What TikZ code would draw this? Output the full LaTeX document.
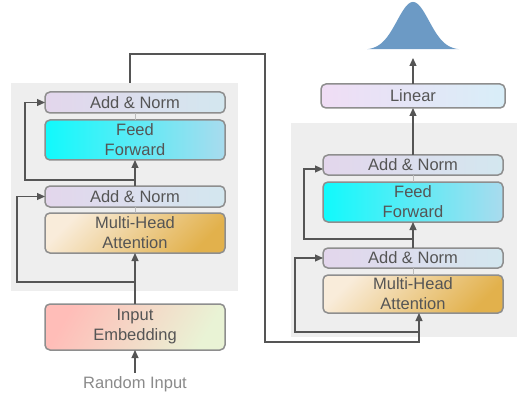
\documentclass[tikz,border=0pt]{standalone}
\usepackage{fontspec}
\setmainfont{Liberation Sans}
\usetikzlibrary{arrows.meta, positioning, calc, backgrounds}

\definecolor{boxline}{HTML}{8E8E8E}
\definecolor{txtgray}{HTML}{555555}
\definecolor{rndgray}{HTML}{8A8A8A}
\definecolor{panelgray}{HTML}{EEEEEE}
\definecolor{wirecol}{HTML}{555555}
\definecolor{gaussblue}{HTML}{6C9AC5}
\definecolor{anL}{HTML}{E3D6EC}
\definecolor{anR}{HTML}{D3E7EF}
\definecolor{ffL}{HTML}{10FAFC}
\definecolor{ffR}{HTML}{A9DBEE}
\definecolor{mhaA}{HTML}{F9ECDA}
\definecolor{mhaB}{HTML}{E2B14C}
\definecolor{ieA}{HTML}{FFBDB8}
\definecolor{ieB}{HTML}{E9F3D5}
\definecolor{linL}{HTML}{F0DDF5}
\definecolor{linR}{HTML}{D8EEF8}

\begin{document}
\begin{tikzpicture}[
    x=1pt, y=-1pt,
    font=\fontsize{16.5}{20}\selectfont,
    block/.style={rectangle, rounded corners=5pt, minimum width=180pt, inner sep=0pt, outer sep=0pt, text centered, align=center, draw=boxline, line width=1.5pt, text=txtgray},
    addnorm/.style={block, minimum height=21pt, left color=anL, right color=anR},
    feedfwd/.style={block, minimum height=40pt, left color=ffL, right color=ffR},
    attention/.style={block, minimum height=40pt, top color=mhaA, bottom color=mhaB, shading angle=45},
    embed/.style={block, minimum height=46pt, top color=ieA, bottom color=ieB, shading angle=60},
    linear/.style={block, minimum width=184pt, minimum height=24pt, left color=linL, right color=linR},
    arrow/.style={draw=wirecol, line width=1.2pt, -{Triangle[length=8pt,width=7pt]}},
    wire/.style={draw=wirecol, line width=1.2pt},
    link/.style={draw=boxline!60, line width=0.8pt},
    panel/.style={fill=panelgray, draw=none}
]
\useasboundingbox (0,0) rectangle (524,398);

% Encoder (left)
\node (ie1) [embed] at (135,327) {Input\\Embedding};
\node (rin) [text=rndgray] at (135,384) {Random Input};
\node (mha1) [attention, above=51pt of ie1] {Multi-Head\\Attention};
\node (an2l) [addnorm, above=6pt of mha1] {Add \& Norm};
\node (ff1) [feedfwd, above=26pt of an2l] {Feed\\Forward};
\node (an1l) [addnorm, above=7pt of ff1] {Add \& Norm};

% Decoder (right)
\node (mha2) [attention, minimum height=38pt] at (413,294) {Multi-Head\\Attention};
\node (an2r) [addnorm, minimum height=20pt, above=7pt of mha2] {Add \& Norm};
\node (ff2) [feedfwd, above=26pt of an2r] {Feed\\Forward};
\node (an1r) [addnorm, minimum height=20pt, above=7pt of ff2] {Add \& Norm};
\node (lin) [linear, above=47pt of an1r] {Linear};

% Panels
\begin{scope}[on background layer]
\fill [panel] ($(an1l.north west)+(-34,-9)$) rectangle ($(mha1.south east)+(13,38)$);
\fill [panel] ($(an1r.north west)+(-32,-32)$) rectangle ($(mha2.south east)+(14,24)$);
\end{scope}

% Output distribution
\fill [gaussblue] plot[domain=-46:46, samples=120] ({413+\x}, {50-48*exp(-\x*\x/512)}) -- cycle;
\coordinate (dist) at ($(lin.north)+(0,-26)$);

% Coordinates for branches
\coordinate (r1l) at ($(mha1.south)+(0,29)$);
\coordinate (r2l) at ($(an2l.north)+(0,-6)$);
\coordinate (encout) at ($(an1l.north)+(-5,-9)$);
\coordinate (mem) at ($(mha2.south)+(6,29)$);
\coordinate (r1r) at ($(mem)+(0,-10)$);
\coordinate (r2r) at ($(an2r.north)+(0,-9)$);

% Arrows (left)
\draw [arrow] (rin) -- (ie1);
\draw [arrow] (ie1) -- (mha1);
\draw [arrow] (r1l) -| ($(an2l.west)+(-28,0)$) -- (an2l);
\draw [link] (mha1) -- (an2l);
\draw [arrow] (an2l) -- (ff1);
\draw [arrow] (r2l) -| ($(an1l.west)+(-20,0)$) -- (an1l);
\draw [link] (ff1) -- (an1l);

% Arrows (across)
\draw [arrow] (encout) -- ++(0,-29) -| ($(mem)+(-154,0)$) -- (mem) -- (mem |- mha2.south);

% Arrows (right)
\draw [arrow] (r1r) -| ($(an2r.west)+(-28,0)$) -- (an2r);
\draw [link] (mha2) -- (an2r);
\draw [arrow] (an2r) -- (ff2);
\draw [arrow] (r2r) -| ($(an1r.west)+(-19,4)$) -- ($(an1r.west)+(0,4)$);
\draw [link] (ff2) -- (an1r);
\draw [arrow] (an1r) -- (lin);
\draw [arrow] (lin) -- (dist);

\end{tikzpicture}
\end{document}
